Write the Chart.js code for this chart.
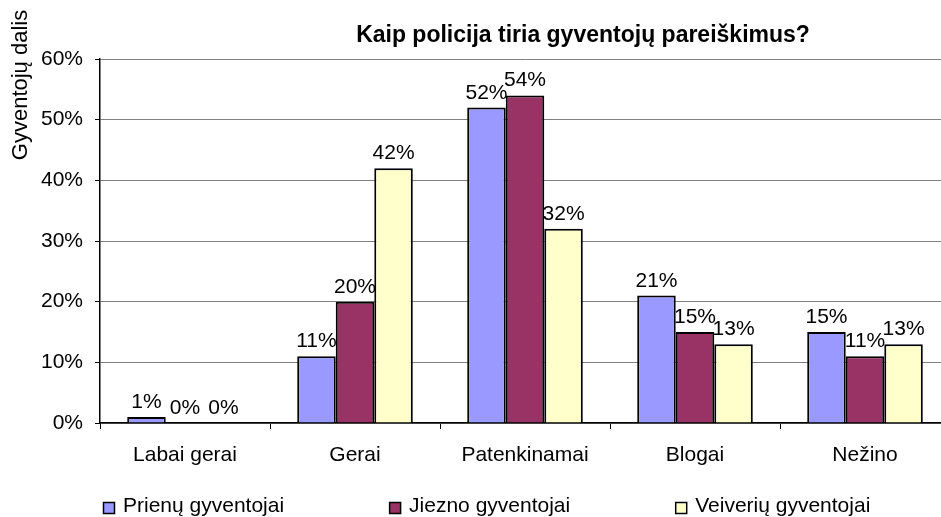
<!DOCTYPE html>
<html>
<head>
<meta charset="utf-8">
<script src="https://cdn.jsdelivr.net/npm/chart.js@4/dist/chart.umd.min.js"></script>
<style>
  html, body { margin: 0; padding: 0; background: #fff; overflow: hidden; }
  #wrap { position: relative; width: 960px; height: 517px; }
</style>
</head>
<body>
<div id="wrap"><canvas id="chart1"></canvas></div>
<script>
// categories and series (percent)
const categories = ["Labai gerai", "Gerai", "Patenkinamai", "Blogai", "Nežino"];
const prienai = [1, 11, 52, 21, 15];
const jieznas = [0, 20, 54, 15, 11];
const veiveriai = [0, 42, 32, 13, 13];
const seriesNames = ["Prienų gyventojai", "Jiezno gyventojai", "Veiverių gyventojai"];
const seriesColors = ["#9999FF", "#993366", "#FFFFCC"];
const yMax = 60;
const yStep = 10;

const chartTitle = "Kaip policija tiria gyventojų pareiškimus?";
const yTitle = "Gyventojų dalis";

const FONT = "'Liberation Sans', Arial, sans-serif";
Chart.defaults.font.family = FONT;
Chart.defaults.color = "#000";

// value labels above each bar
const valueLabels = {
  id: "valueLabels",
  afterDatasetsDraw(chart) {
    const ctx = chart.ctx;
    ctx.save();
    ctx.font = "21px " + FONT;
    ctx.fillStyle = "#000";
    ctx.textAlign = "center";
    ctx.textBaseline = "alphabetic";
    chart.data.datasets.forEach((ds, i) => {
      chart.getDatasetMeta(i).data.forEach((bar, j) => {
        ctx.fillText(ds.data[j] + "%", bar.x, bar.y - 9);
      });
    });
    ctx.restore();
  }
};

// titles + legend drawn like the original spreadsheet chart
const extras = {
  id: "extras",
  afterDraw(chart) {
    const ctx = chart.ctx;
    ctx.save();
    ctx.fillStyle = "#000";

    // chart title
    ctx.font = "bold 23px " + FONT;
    ctx.textAlign = "center";
    ctx.textBaseline = "alphabetic";
    ctx.fillText(chartTitle, 583, 42);

    // y axis title
    ctx.save();
    ctx.font = "22px " + FONT;
    ctx.translate(27, 85);
    ctx.rotate(-Math.PI / 2);
    ctx.fillText(yTitle, 0, 0);
    ctx.restore();

    // legend
    ctx.font = "21px " + FONT;
    ctx.textAlign = "left";
    let x = 103;
    chart.data.datasets.forEach((ds) => {
      ctx.fillStyle = ds.backgroundColor;
      ctx.fillRect(x, 502, 11, 11);
      ctx.strokeStyle = "#000";
      ctx.lineWidth = 1.5;
      ctx.strokeRect(x + 0.5, 502.5, 11, 11);
      ctx.fillStyle = "#000";
      ctx.fillText(ds.label, x + 20, 512);
      x += 20 + ctx.measureText(ds.label).width + 105;
    });
    ctx.restore();
  }
};

const ctx = document.getElementById("chart1").getContext("2d");
new Chart(ctx, {
  type: "bar",
  data: {
    labels: categories,
    datasets: [prienai, jieznas, veiveriai].map((vals, i) => ({
      label: seriesNames[i],
      data: vals,
      backgroundColor: seriesColors[i],
      borderColor: "#000",
      borderWidth: 2,
      categoryPercentage: 0.68,
      barPercentage: 1
    }))
  },
  options: {
    responsive: true,
    maintainAspectRatio: false,
    animation: false,
    layout: {
      padding: { top: 59, right: 10, bottom: 0, left: 0 }
    },
    plugins: {
      legend: { display: false },
      title: { display: false },
      tooltip: { enabled: false }
    },
    scales: {
      x: {
        afterFit(scale) { scale.height = 94; },
        grid: {
          offset: true,
          drawOnChartArea: false,
          color: "#000",
          tickColor: "#000",
          tickLength: 6
        },
        border: { color: "#000", width: 1.5 },
        ticks: {
          font: { size: 21 },
          color: "#000",
          padding: 14,
          maxRotation: 0
        }
      },
      y: {
        min: 0,
        max: yMax,
        afterFit(scale) { scale.width = 100; },
        grid: {
          color: "#808080",
          tickColor: "#000",
          tickLength: 5
        },
        border: { color: "#000", width: 1.5 },
        ticks: {
          stepSize: yStep,
          font: { size: 21 },
          color: "#000",
          padding: 12,
          callback: (v) => v + "%"
        }
      }
    }
  },
  plugins: [valueLabels, extras]
});
</script>
</body>
</html>
